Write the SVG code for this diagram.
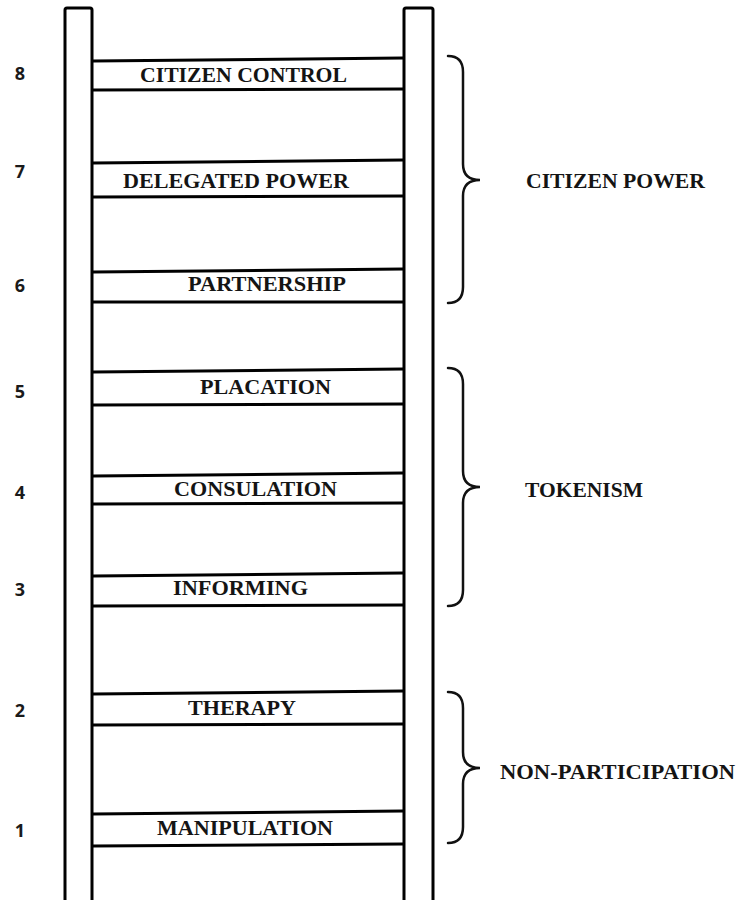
<svg xmlns="http://www.w3.org/2000/svg" width="740" height="900" viewBox="0 0 740 900">
<style>
.rail{fill:#fff;stroke:#000;stroke-width:3}
.rung{stroke:#000;stroke-width:3;fill:none}
.brace{stroke:#111;stroke-width:2.5;fill:none;stroke-linecap:round}
.lbl{font-family:"Liberation Serif","Times New Roman",serif;font-weight:bold;font-size:20px;fill:#141414;text-anchor:start}
.num{font-family:"Open Sans","Liberation Sans",Arial,sans-serif;font-weight:bold;font-size:18px;fill:#1a1a1a;text-anchor:middle}
</style>
<rect width="740" height="900" fill="#fff"/>
<g id="rails">
<rect class="rail" x="65" y="8" width="27" height="900" rx="2"/>
<rect class="rail" x="404" y="8" width="29" height="900" rx="2"/>
</g>
<g id="connectors">
<g id="rung8"><line class="rung" x1="93" y1="61" x2="403" y2="58"/><line class="rung" x1="93" y1="90" x2="403" y2="89"/></g>
<g id="rung7"><line class="rung" x1="93" y1="163" x2="403" y2="160"/><line class="rung" x1="93" y1="197" x2="403" y2="196"/></g>
<g id="rung6"><line class="rung" x1="93" y1="272" x2="403" y2="269"/><line class="rung" x1="93" y1="302" x2="403" y2="302"/></g>
<g id="rung5"><line class="rung" x1="93" y1="372" x2="403" y2="369"/><line class="rung" x1="93" y1="405" x2="403" y2="404"/></g>
<g id="rung4"><line class="rung" x1="93" y1="476" x2="403" y2="473"/><line class="rung" x1="93" y1="504" x2="403" y2="503"/></g>
<g id="rung3"><line class="rung" x1="93" y1="576" x2="403" y2="573"/><line class="rung" x1="93" y1="606" x2="403" y2="605"/></g>
<g id="rung2"><line class="rung" x1="93" y1="694" x2="403" y2="691"/><line class="rung" x1="93" y1="725" x2="403" y2="724"/></g>
<g id="rung1"><line class="rung" x1="93" y1="814" x2="403" y2="811"/><line class="rung" x1="93" y1="846" x2="403" y2="844"/></g>
</g>
<g id="step8"><text class="num" x="20" y="80">8</text><text class="lbl" x="140" y="82" textLength="207" lengthAdjust="spacingAndGlyphs">CITIZEN CONTROL</text></g>
<g id="step7"><text class="num" x="20" y="178">7</text><text class="lbl" x="123" y="188" textLength="226" lengthAdjust="spacingAndGlyphs">DELEGATED POWER</text></g>
<g id="step6"><text class="num" x="20" y="292">6</text><text class="lbl" x="188" y="291" textLength="158" lengthAdjust="spacingAndGlyphs">PARTNERSHIP</text></g>
<g id="step5"><text class="num" x="20" y="398">5</text><text class="lbl" x="200" y="394" textLength="131" lengthAdjust="spacingAndGlyphs">PLACATION</text></g>
<g id="step4"><text class="num" x="20" y="499">4</text><text class="lbl" x="174" y="496" textLength="163" lengthAdjust="spacingAndGlyphs">CONSULATION</text></g>
<g id="step3"><text class="num" x="20" y="596">3</text><text class="lbl" x="173" y="595" textLength="135" lengthAdjust="spacingAndGlyphs">INFORMING</text></g>
<g id="step2"><text class="num" x="20" y="717">2</text><text class="lbl" x="188" y="715" textLength="108" lengthAdjust="spacingAndGlyphs">THERAPY</text></g>
<g id="step1"><text class="num" x="20" y="837">1</text><text class="lbl" x="157" y="835" textLength="176" lengthAdjust="spacingAndGlyphs">MANIPULATION</text></g>
<g id="citizen-power">
<path class="brace" d="M448,56 C458,56 463,62 463,72 L463,164 C463,174 468,180 480,180 C468,180 463,186 463,196 L463,287 C463,297 458,303 448,303"/>
<text class="lbl" x="526" y="188" textLength="179" lengthAdjust="spacingAndGlyphs">CITIZEN POWER</text>
</g>
<g id="tokenism">
<path class="brace" d="M448,368 C458,368 463,374 463,384 L463,471 C463,481 468,487 480,487 C468,487 463,493 463,503 L463,590 C463,600 458,606 448,606"/>
<text class="lbl" x="525" y="497" textLength="118" lengthAdjust="spacingAndGlyphs">TOKENISM</text>
</g>
<g id="non-participation">
<path class="brace" d="M448,692 C458,692 463,698 463,708 L463,752 C463,762 468,768 480,768 C468,768 463,774 463,784 L463,827 C463,837 458,843 448,843"/>
<text class="lbl" x="500" y="779" textLength="235" lengthAdjust="spacingAndGlyphs">NON-PARTICIPATION</text>
</g>
</svg>
